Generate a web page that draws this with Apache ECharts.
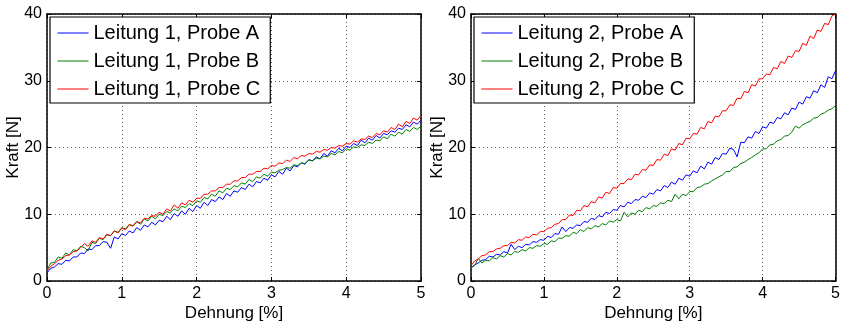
<!DOCTYPE html>
<html>
<head>
<meta charset="utf-8">
<script src="https://cdn.jsdelivr.net/npm/echarts@6/dist/echarts.min.js"></script>
<style>
  html, body { margin: 0; padding: 0; background: #fff; }
  #chart { width: 843px; height: 327px; }
</style>
</head>
<body>
<div id="chart"></div>
<script>
// Strain values (%) shared by all samples
const dehnung = [
  0.00,0.05,0.10,0.15,0.20,0.25,0.30,0.35,0.40,0.45,0.50,0.55,0.60,0.65,0.70,0.75,0.80,0.85,0.90,0.95,
  1.00,1.05,1.10,1.15,1.20,1.25,1.30,1.35,1.40,1.45,1.50,1.55,1.60,1.65,1.70,1.75,1.80,1.85,1.90,1.95,
  2.00,2.05,2.10,2.15,2.20,2.25,2.30,2.35,2.40,2.45,2.50,2.55,2.60,2.65,2.70,2.75,2.80,2.85,2.90,2.95,
  3.00,3.05,3.10,3.15,3.20,3.25,3.30,3.35,3.40,3.45,3.50,3.55,3.60,3.65,3.70,3.75,3.80,3.85,3.90,3.95,
  4.00,4.05,4.10,4.15,4.20,4.25,4.30,4.35,4.40,4.45,4.50,4.55,4.60,4.65,4.70,4.75,4.80,4.85,4.90,4.95,
  5.00
];

// Force (N), Leitung 1
const l1ProbeA = [
  1.2,1.9,2.1,2.6,2.5,3.1,3.0,3.6,3.6,4.2,4.1,4.8,4.7,5.3,5.3,5.9,5.8,4.9,6.6,6.3,
  7.1,6.8,7.5,7.2,8.0,7.6,8.4,8.1,8.8,8.4,9.1,8.9,9.7,9.2,10.1,9.7,10.5,10.0,10.9,10.4,
  11.3,10.9,11.8,11.3,12.2,11.9,12.6,12.2,13.1,12.7,13.5,13.3,14.0,13.7,14.5,14.1,14.9,14.7,15.4,15.1,
  15.9,15.6,16.4,16.0,16.9,16.5,17.3,17.1,17.7,17.5,18.2,18.0,18.6,18.3,19.1,18.7,19.5,19.2,19.9,19.5,
  20.2,20.0,20.6,20.3,21.1,20.7,21.4,21.1,21.8,21.4,22.1,21.9,22.5,22.3,22.9,22.7,23.4,23.1,23.8,23.5,
  24.1
];
const l1ProbeB = [
  1.6,2.7,2.8,3.6,3.4,4.2,3.9,4.7,4.5,5.2,5.0,4.5,5.8,5.6,6.4,6.2,6.9,6.8,7.5,7.3,
  8.0,7.8,8.5,8.2,8.9,8.5,9.3,9.0,9.7,9.3,10.0,9.8,10.4,10.2,10.8,10.5,11.2,11.0,11.6,11.3,
  12.0,11.8,12.5,12.3,13.0,12.7,13.5,13.2,13.9,13.7,14.3,14.1,14.7,14.5,15.2,14.9,15.6,15.4,16.0,15.7,
  16.3,16.2,16.6,16.7,17.0,16.9,17.4,17.3,17.7,17.6,18.1,18.0,18.4,18.3,18.7,18.6,19.1,18.9,19.4,19.2,
  19.8,19.6,20.1,20.0,20.4,20.3,20.8,20.6,21.1,21.0,21.6,21.3,22.0,21.7,22.3,22.0,22.7,22.4,23.0,22.7,
  23.2
];
const l1ProbeC = [
  1.5,2.2,2.6,3.1,3.3,3.8,3.9,4.4,4.5,5.0,5.6,5.2,6.0,5.8,6.5,6.3,7.0,6.8,7.5,7.2,
  7.9,7.7,8.4,8.3,8.9,8.7,9.4,9.3,9.8,9.7,10.3,10.0,10.8,10.5,11.4,10.9,11.7,11.4,12.1,11.8,
  12.4,12.4,13.0,13.0,13.5,13.5,14.0,14.0,14.5,14.5,15.0,15.0,15.5,15.5,16.0,16.0,16.4,16.4,16.9,16.8,
  17.3,17.2,17.7,17.6,18.1,17.9,18.5,18.3,18.8,18.7,19.1,19.0,19.4,19.3,19.7,19.6,20.0,19.9,20.3,20.2,
  20.6,20.5,21.0,20.8,21.3,21.2,21.7,21.5,22.1,21.9,22.5,22.3,23.0,22.7,23.5,23.1,23.9,23.6,24.4,24.1,
  24.8
];

// Force (N), Leitung 2
const l2ProbeA = [
  2.0,2.4,2.7,3.1,3.2,3.7,3.6,4.0,3.9,4.4,4.2,5.5,4.7,5.2,5.0,5.5,5.4,5.9,5.8,6.2,
  6.1,6.7,6.5,7.1,7.0,8.1,7.4,8.0,7.9,8.4,8.3,8.9,8.8,9.4,9.2,9.8,9.6,10.3,10.1,10.7,
  10.6,11.3,11.1,11.8,11.6,12.2,12.1,12.7,12.5,13.2,13.0,13.7,13.5,14.3,14.0,14.8,14.5,15.4,15.1,15.9,
  15.7,16.5,16.2,17.2,16.8,17.8,17.5,18.5,18.2,19.1,19.0,19.9,19.7,18.6,20.8,20.7,21.6,21.4,22.4,22.1,
  23.1,22.9,23.8,23.6,24.5,24.3,25.2,24.9,25.9,25.7,26.8,26.5,27.6,27.4,28.5,28.2,29.4,29.0,30.6,30.3,
  31.5
];
const l2ProbeB = [
  2.0,2.3,3.4,2.7,3.1,3.0,3.5,3.3,3.8,3.6,4.1,3.9,4.4,4.3,4.7,4.5,5.0,4.9,5.3,5.2,
  5.6,5.5,6.0,5.9,6.4,6.4,6.8,6.7,7.3,7.1,7.7,7.4,8.0,7.8,8.3,8.1,8.6,8.4,9.0,8.8,
  9.2,9.0,10.3,9.6,10.2,10.0,10.6,10.4,11.0,10.8,11.3,11.2,11.7,11.6,12.1,11.9,13.0,12.3,13.0,12.8,
  13.4,13.4,14.0,14.1,14.5,14.6,15.0,15.3,15.6,15.9,16.4,16.4,17.0,17.1,17.6,17.8,18.2,18.5,18.9,19.2,
  19.8,19.8,20.4,20.5,21.0,21.2,21.7,21.8,22.3,23.2,22.9,23.4,23.7,23.9,24.4,24.5,25.0,25.2,25.6,25.8,
  26.3
];
const l2ProbeC = [
  2.3,3.0,3.3,3.8,3.9,4.4,4.4,4.8,4.9,5.3,5.3,5.8,5.7,6.2,6.1,6.6,6.5,7.0,6.9,7.4,
  7.4,7.9,8.0,8.5,8.6,9.2,9.2,9.9,9.8,10.6,10.5,11.3,11.1,11.9,11.7,12.6,12.4,13.3,13.1,14.0,
  13.9,14.6,14.6,15.3,15.2,16.0,15.9,16.7,16.6,17.4,17.3,18.2,18.1,19.0,18.8,19.8,19.6,20.6,20.4,21.4,
  21.3,22.1,22.0,23.0,22.8,23.9,23.7,24.7,24.6,25.5,25.5,26.4,26.3,27.4,27.3,28.4,28.2,29.4,29.2,30.3,
  30.3,31.0,30.9,32.0,31.8,32.9,32.6,33.7,33.5,34.5,34.4,35.6,35.3,36.7,36.3,37.6,37.4,38.6,38.4,39.7,
  40.0
];

const namesL1 = ['Leitung 1, Probe A', 'Leitung 1, Probe B', 'Leitung 1, Probe C'];
const namesL2 = ['Leitung 2, Probe A', 'Leitung 2, Probe B', 'Leitung 2, Probe C'];
const xTicks = [0, 1, 2, 3, 4, 5];
const yTicks = [0, 10, 20, 30, 40];

const FONT = '"Liberation Sans", Arial, Helvetica, sans-serif';
const colors = ['#0000ff', '#008000', '#ff0000'];

function pairs(ys) {
  return dehnung.map((x, i) => [x, ys[i]]);
}

const gridLine = { show: true, lineStyle: { color: '#666', type: [1, 3], width: 1 } };
const frameLine = { show: true, onZero: false, lineStyle: { color: '#000', width: 1.5 } };
const innerTick = { show: true, inside: true, length: 4, lineStyle: { color: '#000' } };

function mainX(gridIndex) {
  return {
    type: 'value', gridIndex, position: 'bottom',
    min: xTicks[0], max: xTicks[xTicks.length - 1], interval: 1,
    name: 'Dehnung [%]', nameLocation: 'middle', nameGap: 24, nameMoveOverlap: false,
    nameTextStyle: { color: '#000', fontSize: 17, fontFamily: FONT },
    axisLine: frameLine, axisTick: innerTick,
    axisLabel: { color: '#000', fontSize: 16, fontFamily: FONT, margin: 5 },
    splitLine: gridLine
  };
}
function topX(gridIndex) {
  return {
    type: 'value', gridIndex, position: 'top',
    min: xTicks[0], max: xTicks[xTicks.length - 1], interval: 1,
    axisLine: frameLine, axisTick: innerTick,
    axisLabel: { show: false }, splitLine: { show: false }
  };
}
function mainY(gridIndex) {
  return {
    type: 'value', gridIndex, position: 'left',
    min: yTicks[0], max: yTicks[yTicks.length - 1], interval: 10,
    name: 'Kraft [N]', nameLocation: 'middle', nameGap: 25, nameMoveOverlap: false,
    nameTextStyle: { color: '#000', fontSize: 17, fontFamily: FONT },
    axisLine: frameLine, axisTick: innerTick,
    axisLabel: { color: '#000', fontSize: 16, fontFamily: FONT, margin: 5 },
    splitLine: gridLine
  };
}
function rightY(gridIndex) {
  return {
    type: 'value', gridIndex, position: 'right',
    min: yTicks[0], max: yTicks[yTicks.length - 1], interval: 10,
    axisLine: frameLine, axisTick: innerTick,
    axisLabel: { show: false }, splitLine: { show: false }
  };
}
function legendFor(names, left) {
  return {
    data: names, orient: 'vertical', left, top: 17,
    padding: [6, 10, 4, 7], itemGap: 8, itemWidth: 31, itemHeight: 20,
    backgroundColor: '#fff', borderColor: '#000', borderWidth: 1.2, borderRadius: 0,
    itemStyle: { opacity: 0 },
    lineStyle: { width: 1 },
    textStyle: { color: '#000', fontSize: 20, fontFamily: FONT },
    selectedMode: false
  };
}
function line(name, ys, axisIdx, color) {
  return {
    type: 'line', name, data: pairs(ys),
    xAxisIndex: axisIdx, yAxisIndex: axisIdx,
    symbol: 'none', animation: false, clip: true,
    lineStyle: { color, width: 1 }, itemStyle: { color }
  };
}

const chart = echarts.init(document.getElementById('chart'));
chart.setOption({
  backgroundColor: '#fff',
  animation: false,
  grid: [
    { left: 47, top: 14, width: 374, height: 270 },
    { left: 471, top: 14, width: 366, height: 270 }
  ],
  xAxis: [mainX(0), mainX(1), topX(0), topX(1)],
  yAxis: [mainY(0), mainY(1), rightY(0), rightY(1)],
  legend: [legendFor(namesL1, 50), legendFor(namesL2, 474)],
  series: [
    line(namesL1[0], l1ProbeA, 0, colors[0]),
    line(namesL1[1], l1ProbeB, 0, colors[1]),
    line(namesL1[2], l1ProbeC, 0, colors[2]),
    line(namesL2[0], l2ProbeA, 1, colors[0]),
    line(namesL2[1], l2ProbeB, 1, colors[1]),
    line(namesL2[2], l2ProbeC, 1, colors[2])
  ]
});
</script>
</body>
</html>
